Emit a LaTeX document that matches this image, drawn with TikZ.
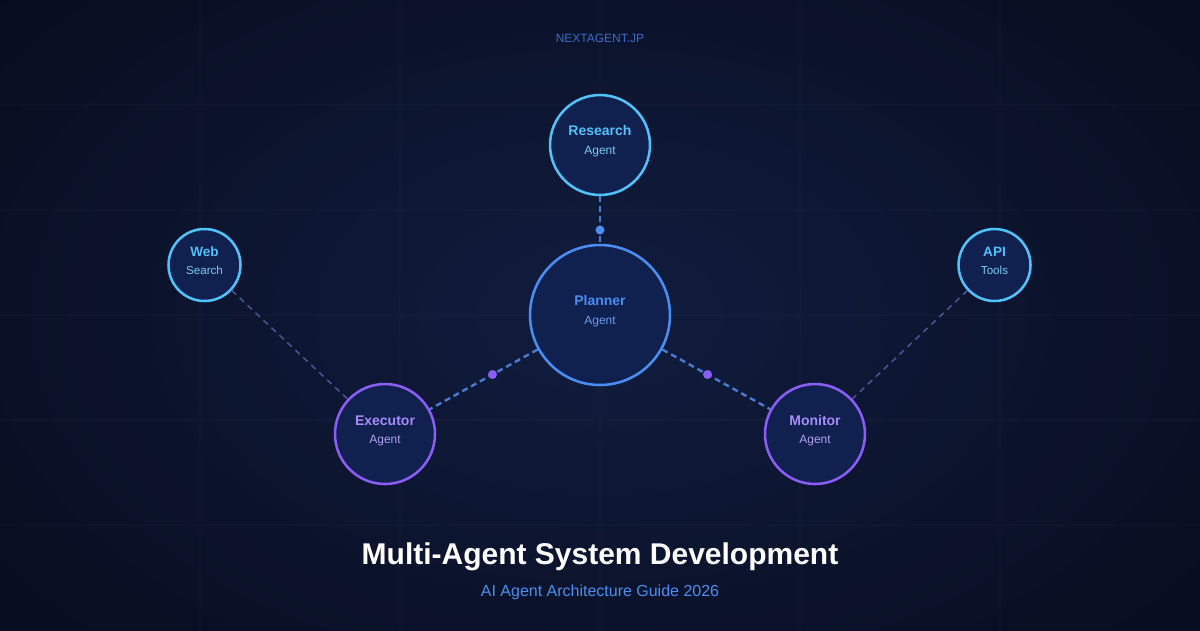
\documentclass[tikz,border=0pt]{standalone}
\usepackage{fontspec}
\setmainfont{Liberation Sans}
\usetikzlibrary{calc}
\definecolor{bgin}{HTML}{111C3F}
\definecolor{bgout}{HTML}{060B1A}
\definecolor{cyanc}{HTML}{4FC3F7}
\definecolor{cyant}{HTML}{7CCBF2}
\definecolor{bluec}{HTML}{4A8EF2}
\definecolor{bluet}{HTML}{6A9EEE}
\definecolor{purpc}{HTML}{8B5CF6}
\definecolor{purpt}{HTML}{A78BFA}
\definecolor{purpt2}{HTML}{B3A1F2}
\definecolor{nodefill}{HTML}{10204F}
\definecolor{dashc}{HTML}{4A7DCF}
\definecolor{thinc}{HTML}{4C5599}
\definecolor{brand}{HTML}{3B6CC9}
\definecolor{subc}{HTML}{4A8EF0}
\begin{document}
\begin{tikzpicture}[x=0.02cm,y=-0.02cm,
  agentc/.style={circle, inner sep=0pt, fill=nodefill, line width=1.45pt, minimum size=#1},
  ttl/.style={anchor=base, inner sep=0pt, font=\bfseries\fontsize{7.97}{9}\selectfont},
  sub/.style={anchor=base, inner sep=0pt, font=\fontsize{6.83}{8}\selectfont},
  ttls/.style={anchor=base, inner sep=0pt, font=\bfseries\fontsize{7.7}{9}\selectfont},
  subs/.style={anchor=base, inner sep=0pt, font=\fontsize{6.6}{8}\selectfont},
  conn/.style={draw=dashc, line width=1.35pt, dash pattern=on 3.4pt off 2.3pt},
  thinconn/.style={draw=thinc, line width=0.85pt, dash pattern=on 3.4pt off 2.8pt},
  dotn/.style={circle, inner sep=0pt, minimum size=0.18cm, fill=#1},
  gridl/.style={draw=white, opacity=0.02, line width=0.6pt}
]
% background
\begin{scope}
\clip (0,0) rectangle (1200,630);
\shade[inner color=bgin, outer color=bgout] (-300,-250) rectangle (1500,880);
\foreach \x in {200,400,...,1000} \draw[gridl] (\x,0) -- (\x,630);
\foreach \y in {105,210,...,525} \draw[gridl] (0,\y) -- (1200,\y);
\end{scope}
\useasboundingbox (0,0) rectangle (1200,630);

% brand
\node[anchor=base, inner sep=0pt, text=brand, font=\fontsize{6.83}{8}\selectfont] (brandn) at (600,42) {NEXTAGENT.JP};

% circles
\node[agentc=2cm, draw=cyanc] (res) at (600,145) {};
\node[agentc=2.8cm, draw=bluec] (plan) at (600,315) {};
\node[agentc=1.44cm, draw=cyanc] (web) at (204.5,265) {};
\node[agentc=1.44cm, draw=cyanc] (api) at (994.5,265) {};
\node[agentc=2cm, draw=purpc] (exec) at (385,434) {};
\node[agentc=2cm, draw=purpc] (mon) at (815,434) {};

% connectors
\draw[conn] (res) -- (plan);
\draw[conn] (plan) -- (exec);
\draw[conn] (plan) -- (mon);
\draw[thinconn] (web) -- (exec);
\draw[thinconn] (api) -- (mon);

% dots
\node[dotn=bluec] (d0) at ($(res)!0.5!(plan)$) {};
\node[dotn=purpc] (d1) at ($(plan)!0.5!(exec)$) {};
\node[dotn=purpc] (d2) at ($(plan)!0.5!(mon)$) {};

% texts
\node[ttl, text=cyanc] (resA) at (600,135.7) {Research};
\node[sub, text=cyant] (resB) at (600,154.2) {Agent};
\node[ttl, text=bluec] (planA) at (600,305.7) {Planner};
\node[sub, text=bluet] (planB) at (600,324.2) {Agent};
\node[ttls, text=cyanc] (webA) at (204.5,256) {Web};
\node[subs, text=cyant] (webB) at (204.5,274) {Search};
\node[ttls, text=cyanc] (apiA) at (994.5,256) {API};
\node[subs, text=cyant] (apiB) at (994.5,274) {Tools};
\node[ttl, text=purpt] (execA) at (385,425) {Executor};
\node[sub, text=purpt2] (execB) at (385,443.4) {Agent};
\node[ttl, text=purpt] (monA) at (815,425) {Monitor};
\node[sub, text=purpt2] (monB) at (815,443.4) {Agent};

% title
\node[anchor=base, inner sep=0pt, text=white, font=\bfseries\fontsize{17.07}{20}\selectfont] (title) at (600,564) {Multi-Agent System Development};
\node[anchor=base, inner sep=0pt, text=subc, font=\fontsize{9.1}{11}\selectfont] (subtitle) at (600,596) {AI Agent Architecture Guide 2026};
\end{tikzpicture}
\end{document}
